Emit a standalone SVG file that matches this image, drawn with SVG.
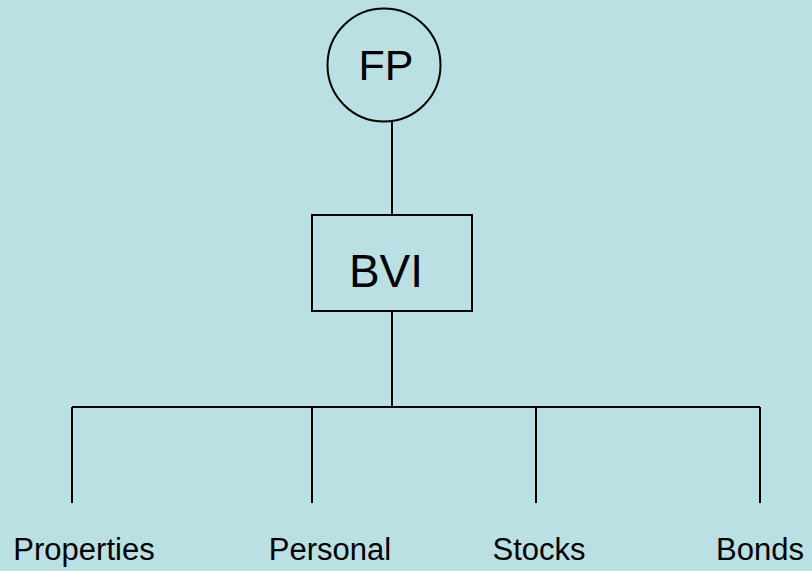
<svg xmlns="http://www.w3.org/2000/svg" width="812" height="571" viewBox="0 0 812 571">
<style>
.ln{stroke:#000;stroke-width:2;fill:none}
.nd{stroke:#000;stroke-width:2;fill:none}
.t{font-family:"Liberation Sans",Arial,sans-serif;fill:#000}
.lb{font-size:31px}
</style>
<rect width="812" height="571" fill="#BAE0E3"/>
<g id="connectors">
<line class="ln" x1="392" y1="122" x2="392" y2="215"/>
<line class="ln" x1="392" y1="311" x2="392" y2="407"/>
<line class="ln" x1="72" y1="407" x2="760" y2="407"/>
<line class="ln" x1="72" y1="407" x2="72" y2="503"/>
<line class="ln" x1="312" y1="407" x2="312" y2="503"/>
<line class="ln" x1="536" y1="407" x2="536" y2="503"/>
<line class="ln" x1="760" y1="407" x2="760" y2="503"/>
</g>
<g id="FP">
<circle class="nd" cx="384" cy="65" r="56.5"/>
<text class="t" x="386" y="80" font-size="43" text-anchor="middle">FP</text>
</g>
<g id="BVI">
<rect class="nd" x="312" y="215" width="160" height="96"/>
<text class="t" x="386" y="287" font-size="46" text-anchor="middle">BVI</text>
</g>
<g id="Properties"><text class="t lb" x="84" y="560" text-anchor="middle">Properties</text></g>
<g id="Personal"><text class="t lb" x="330" y="560" text-anchor="middle">Personal</text></g>
<g id="Stocks"><text class="t lb" x="539" y="560" text-anchor="middle">Stocks</text></g>
<g id="Bonds"><text class="t lb" x="760" y="560" text-anchor="middle">Bonds</text></g>
</svg>
